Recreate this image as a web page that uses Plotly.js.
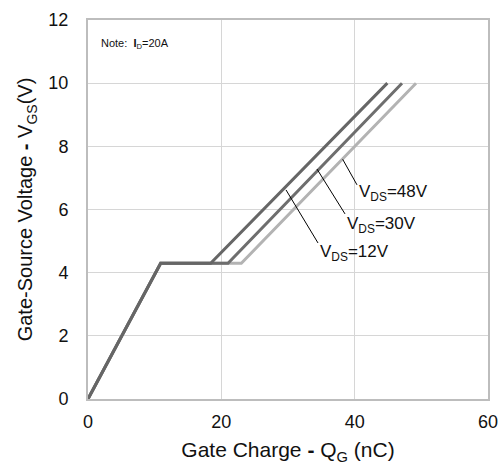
<!DOCTYPE html>
<html><head><meta charset="utf-8">
<script src="https://cdn.plot.ly/plotly-3.0.1.min.js"></script>
<style>html,body{margin:0;padding:0;background:#fff}#plot{width:500px;height:471px}</style>
</head><body><div id="plot"></div>
<script>
// Gate charge curves (Q_G nC, V_GS V)
const qg12 = [0, 10.9, 18.4, 44.9];
const vgs12 = [0, 4.3, 4.3, 10.0];
const qg30 = [0, 10.9, 21.0, 47.1];
const vgs30 = [0, 4.3, 4.3, 10.0];
const qg48 = [0, 10.9, 23.0, 49.2];
const vgs48 = [0, 4.3, 4.3, 10.0];
const seriesLabels = ['V<sub>DS</sub>=12V', 'V<sub>DS</sub>=30V', 'V<sub>DS</sub>=48V'];
const xTicks = [0, 20, 40, 60];
const yTicks = [0, 2, 4, 6, 8, 10, 12];

const traces = [
  {x: qg48, y: vgs48, mode: 'lines', line: {color: '#b3b3b3', width: 3}, hoverinfo: 'none'},
  {x: qg30, y: vgs30, mode: 'lines', line: {color: '#6e6e6e', width: 3}, hoverinfo: 'none'},
  {x: qg12, y: vgs12, mode: 'lines', line: {color: '#666666', width: 3}, hoverinfo: 'none'}
];

const fam = 'Liberation Sans, Arial, sans-serif';
const layout = {
  width: 500, height: 471,
  margin: {l: 88, r: 12, t: 20, b: 72},
  showlegend: false,
  paper_bgcolor: '#fff', plot_bgcolor: '#fff',
  font: {family: fam, color: '#111'},
  xaxis: {
    range: [0, 60], tickvals: xTicks, ticktext: xTicks.map(String),
    showgrid: true, gridcolor: '#d6d6d6', gridwidth: 1,
    showline: true, linecolor: '#bdbdbd', linewidth: 2, mirror: true,
    zeroline: false, ticks: '', ticklabelstandoff: 5,
    tickfont: {size: 18, family: fam, color: '#111'},
    title: {text: 'Gate Charge <b>-</b> Q<sub>G</sub> (nC)', font: {size: 21, family: fam, color: '#111'}, standoff: 12}
  },
  yaxis: {
    range: [0, 12], tickvals: yTicks, ticktext: yTicks.map(String),
    showgrid: true, gridcolor: '#d6d6d6', gridwidth: 1,
    showline: true, linecolor: '#bdbdbd', linewidth: 2, mirror: true,
    zeroline: false, ticks: '', ticklabelstandoff: 14,
    tickfont: {size: 18, family: fam, color: '#111'},
    title: {text: 'Gate-Source Voltage <b>-</b> V<sub>GS</sub>(V)', font: {size: 20, family: fam, color: '#111'}, standoff: 10}
  },
  shapes: [
    {type: 'line', xref: 'x', yref: 'y', x0: 29.7, y0: 6.62, x1: 34.5, y1: 4.94, line: {color: '#000', width: 1}},
    {type: 'line', xref: 'x', yref: 'y', x0: 34.35, y0: 7.28, x1: 38.55, y1: 5.86, line: {color: '#000', width: 1}},
    {type: 'line', xref: 'x', yref: 'y', x0: 38.2, y0: 7.59, x1: 40.35, y1: 6.78, line: {color: '#000', width: 1}}
  ],
  annotations: [
    {xref: 'x', yref: 'y', x: 34.5, y: 4.62, text: seriesLabels[0], showarrow: false, xanchor: 'left', yanchor: 'middle', font: {size: 17, family: fam, color: '#111'}},
    {xref: 'x', yref: 'y', x: 38.55, y: 5.51, text: seriesLabels[1], showarrow: false, xanchor: 'left', yanchor: 'middle', font: {size: 17, family: fam, color: '#111'}},
    {xref: 'x', yref: 'y', x: 40.35, y: 6.52, text: seriesLabels[2], showarrow: false, xanchor: 'left', yanchor: 'middle', font: {size: 17, family: fam, color: '#111'}},
    {xref: 'paper', yref: 'paper', x: 0.028, y: 0.937, text: 'Note:  <b>I</b><sub>D</sub>=20A', showarrow: false, xanchor: 'left', yanchor: 'middle', font: {size: 11, family: fam, color: '#111'}}
  ]
};
Plotly.newPlot('plot', traces, layout, {staticPlot: true, displayModeBar: false});
</script></body></html>
